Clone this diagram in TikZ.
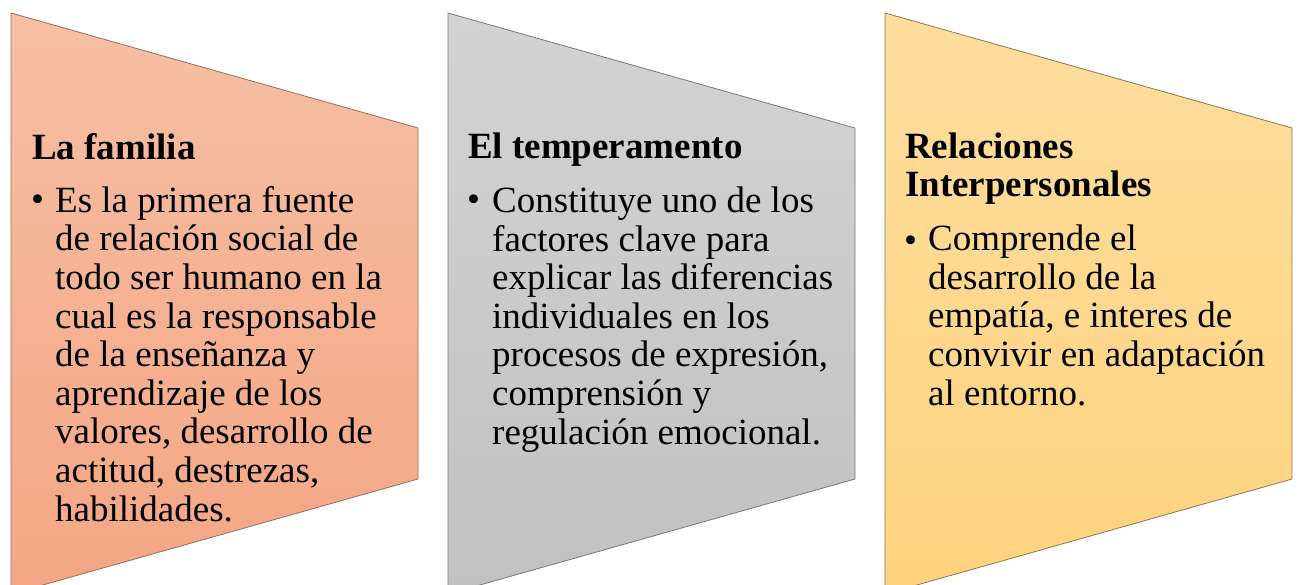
\documentclass[tikz,border=0pt]{standalone}
\usepackage{fontspec}
\setmainfont{Liberation Serif}
\definecolor{salT}{RGB}{246,191,164}
\definecolor{salB}{RGB}{244,166,132}
\definecolor{salE}{RGB}{150,110,95}
\definecolor{grT}{RGB}{211,211,211}
\definecolor{grB}{RGB}{193,193,193}
\definecolor{grE}{RGB}{120,120,120}
\definecolor{yeT}{RGB}{254,221,157}
\definecolor{yeB}{RGB}{254,211,127}
\definecolor{yeE}{RGB}{140,120,80}
\begin{document}
\begin{tikzpicture}[x=1pt,y=-1pt,
  panel/.style={line width=0.8pt},
  head/.style={anchor=base west, inner sep=0pt, font=\fontsize{37}{38}\selectfont\bfseries, align=left},
  bul/.style={anchor=base west, inner sep=0pt, font=\fontsize{37}{38.6}\selectfont},
  body/.style={anchor=base west, inner sep=0pt, font=\fontsize{37}{38.6}\selectfont, align=left}]
\useasboundingbox (0,0) rectangle (1300,585);
\clip (0,0) rectangle (1300,585);
% panels
\path[panel, draw=salE, top color=salT, bottom color=salB]
  (11,13) -- (418,128) -- (418,479) -- (11,594) -- cycle;
\path[panel, draw=grE, top color=grT, bottom color=grB]
  (448,13) -- (855,128) -- (855,479) -- (448,594) -- cycle;
\path[panel, draw=yeE, top color=yeT, bottom color=yeB]
  (885,13) -- (1292,128) -- (1292,479) -- (885,594) -- cycle;
% texts panel 1 (multi-line nodes are placed by their last baseline)
\node[head] (h1) at (32,160) {La familia};
\node[bul] (b1) at (31,212) {•};
\node[body] (t1) at (55,521) {Es la primera fuente\\de relación social de\\todo ser humano en la\\cual es la responsable\\de la enseñanza y\\aprendizaje de los\\valores, desarrollo de\\actitud, destrezas,\\habilidades.};
% panel 2
\node[head] (h2) at (468,159) {El temperamento};
\node[bul] (b2) at (467,212) {•};
\node[body] (t2) at (492,444) {Constituye uno de los\\factores clave para\\explicar las diferencias\\individuales en los\\procesos de expresión,\\comprensión y\\regulación emocional.};
% panel 3
\node[head] (h3) at (905,197) {Relaciones\\Interpersonales};
\node[bul] (b3) at (904,252) {•};
\node[body] (t3) at (928,405) {Comprende el\\desarrollo de la\\empatía, e interes de\\convivir en adaptación\\al entorno.};
\end{tikzpicture}
\end{document}
